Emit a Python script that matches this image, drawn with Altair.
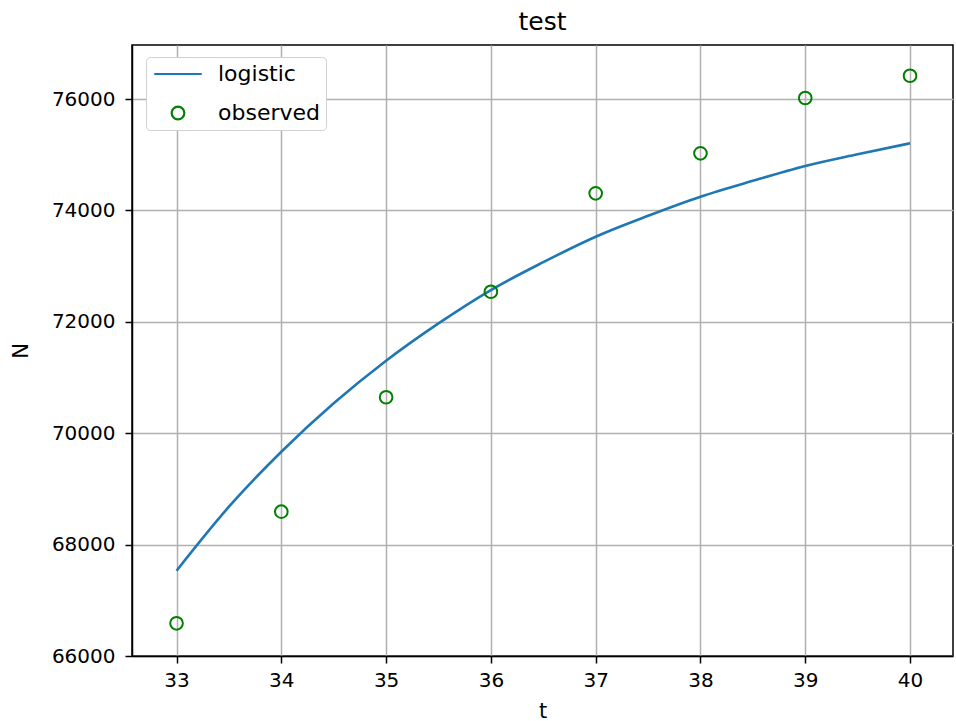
import altair as alt
import pandas as pd

# observed data
t_obs = [33, 34, 35, 36, 37, 38, 39, 40]
n_obs = [66587, 68591, 70645, 72540, 74307, 75025, 76018, 76418]

# logistic curve, read at half steps
t_fit = [33, 33.5, 34, 34.5, 35, 35.5, 36, 36.5, 37, 37.5, 38, 38.5, 39, 39.5, 40]
n_fit = [67531, 68680, 69668, 70538, 71302, 71972, 72571, 73071, 73528,
         73903, 74246, 74531, 74797, 75007, 75205]

x_ticks = [33, 34, 35, 36, 37, 38, 39, 40]
y_ticks = [66000, 68000, 70000, 72000, 74000, 76000]
series_names = ["logistic", "observed"]
series_colors = ["#1f77b4", "#008000"]

FONT = "DejaVu Sans"

fit_df = pd.DataFrame({"t": t_fit, "N": n_fit})
obs_df = pd.DataFrame({"t": t_obs, "N": n_obs, "series": ["observed"] * len(t_obs)})

xs = alt.Scale(domain=[32.575, 40.41], nice=False, zero=False)
ys = alt.Scale(domain=[66000, 76970], nice=False, zero=False)

x_axis = alt.Axis(values=x_ticks, title="t", format="d", grid=True,
                  titlePadding=10, labelPadding=7)
y_axis = alt.Axis(values=y_ticks, title="N", format="d", grid=True,
                  titlePadding=20, labelPadding=10)

line = alt.Chart(fit_df).mark_line(
    color=series_colors[0], strokeWidth=2.6, interpolate="monotone"
).encode(
    x=alt.X("t:Q", scale=xs, axis=x_axis),
    y=alt.Y("N:Q", scale=ys, axis=y_axis),
)

points = alt.Chart(obs_df).mark_point(
    filled=False, size=160, strokeWidth=2, opacity=1
).encode(
    x=alt.X("t:Q", scale=xs),
    y=alt.Y("N:Q", scale=ys),
    color=alt.Color(
        "series:N",
        scale=alt.Scale(domain=series_names, range=series_colors),
        legend=alt.Legend(
            title=None, orient="none", legendX=14, legendY=12,
            fillColor="white", strokeColor="#d0d0d0", cornerRadius=4,
            padding=6, symbolSize=160, symbolStrokeWidth=2.2,
            symbolOffset=15, labelOffset=29, labelFont=FONT,
            labelFontSize=22, labelColor="black", rowPadding=17,
            symbolFillColor="transparent", labelLimit=300,
        ),
    ),
    shape=alt.Shape(
        "series:N",
        scale=alt.Scale(domain=series_names, range=["M-3.75,0L3.75,0", "circle"]),
    ),
)

chart = alt.layer(line, points).properties(
    width=821, height=611,
    background="white",
    title=alt.TitleParams("test", font=FONT, fontSize=25, fontWeight="normal",
                          color="black", offset=15, dy=25, baseline="alphabetic",
                          frame="group"),
    autosize=alt.AutoSizeParams(type="none"),
    padding={"left": 132, "top": 45, "right": 3, "bottom": 65},
).configure_view(
    stroke="black", strokeWidth=1.5
).configure_axis(
    labelFont=FONT, labelFontSize=20, labelColor="black",
    titleFont=FONT, titleFontSize=21, titleColor="black", titleFontWeight="normal",
    gridColor="#b0b0b0", gridWidth=1.5, gridOpacity=1,
    domainColor="black", domainWidth=1.5,
    tickColor="black", tickWidth=1.5, tickSize=7,
)

chart.save("out.html", embed_options={"renderer": "svg", "actions": False})
